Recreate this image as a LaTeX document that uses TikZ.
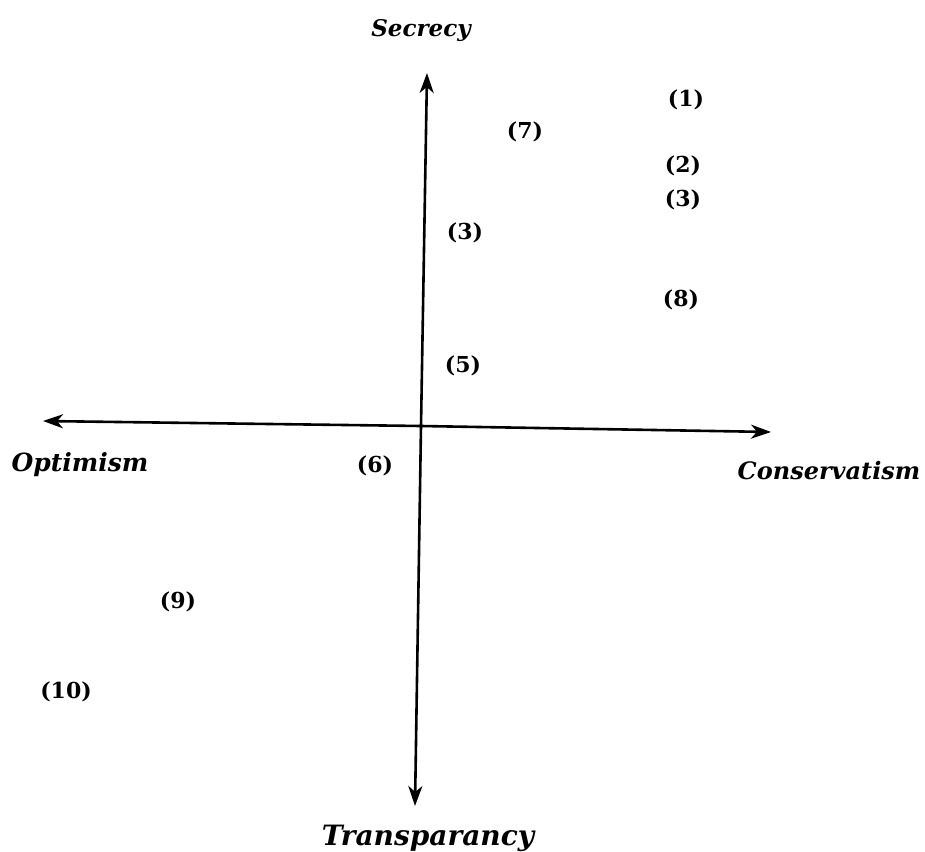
\documentclass[tikz,border=0pt]{standalone}
\usepackage{fontspec}
\setmainfont{DejaVu Serif}
\usetikzlibrary{arrows.meta}
\begin{document}
\begin{tikzpicture}[x=1pt,y=-1pt,
  axis/.style={line width=2.6pt,-{Stealth[length=20pt,width=14pt,inset=6pt]}},
  num/.style={font=\fontsize{22}{24}\selectfont\bfseries},
  axlabel/.style={font=\fontsize{25}{28}\selectfont\bfseries\itshape}]
\fill[white] (0,0) rectangle (925,851);
\useasboundingbox (0,0) rectangle (925,851);
% axes
\coordinate (top) at (427,73);
\coordinate (bot) at (415,806);
\coordinate (left) at (43,421);
\coordinate (right) at (771,432);
\coordinate (ctr) at (421,426);
\draw[axis] (ctr) -- (top);
\draw[axis] (ctr) -- (bot);
\draw[axis] (ctr) -- (left);
\draw[axis] (ctr) -- (right);
% axis labels
\node[axlabel,font=\fontsize{23}{26}\selectfont\bfseries\itshape] (sec) at (421,31) {Secrecy};
\node[axlabel] (opt) at (80,465) {Optimism};
\node[axlabel,font=\fontsize{24}{26}\selectfont\bfseries\itshape] (con) at (829,471) {Conservatism};
\node[axlabel,font=\fontsize{28}{30}\selectfont\bfseries\itshape] (tra) at (428,838) {Transparancy};
% numbered points
\node[num] (n1) at (686,100) {(1)};
\node[num] (n7) at (525,132) {(7)};
\node[num] (n2) at (683,166) {(2)};
\node[num] (n3a) at (683,200) {(3)};
\node[num] (n3b) at (465,233) {(3)};
\node[num] (n8) at (681,300) {(8)};
\node[num] (n5) at (463,366) {(5)};
\node[num] (n6) at (375,466) {(6)};
\node[num] (n9) at (178,602) {(9)};
\node[num] (n10) at (66,692) {(10)};
\end{tikzpicture}
\end{document}
